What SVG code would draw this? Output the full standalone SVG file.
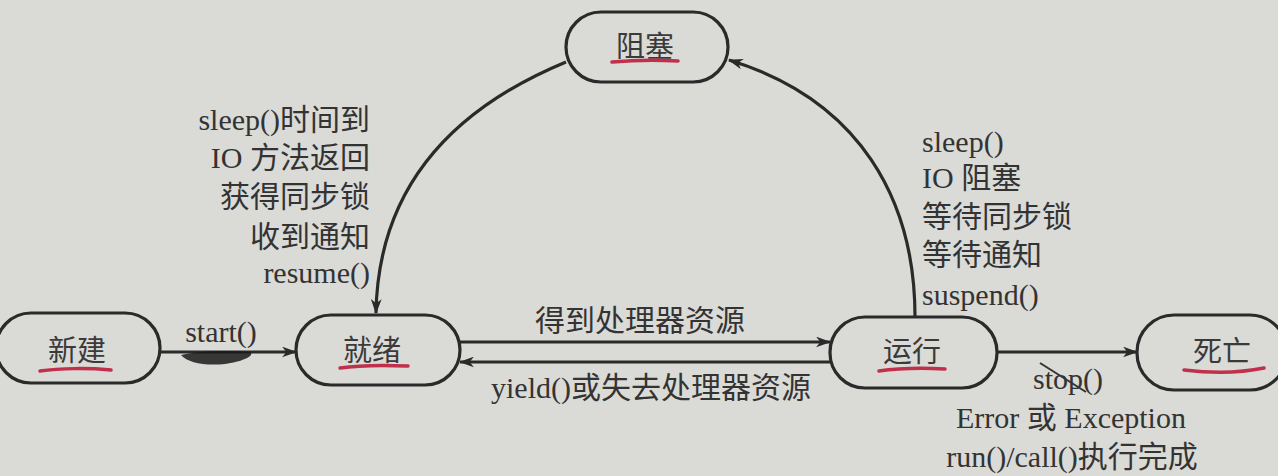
<svg xmlns="http://www.w3.org/2000/svg" width="1278" height="476" viewBox="0 0 1278 476">
<defs>
<marker id="ah" viewBox="0 0 14 10" refX="13" refY="5" markerWidth="15" markerHeight="11" markerUnits="userSpaceOnUse" orient="auto">
<path d="M0,0 L14,5 L0,10 L4,5 z" fill="#2a2a2a"/>
</marker>
<style>
.node{fill:none;stroke:#2a2a2a;stroke-width:3.2}
.lbl{font-family:"Liberation Serif","Noto Sans CJK SC",serif;font-size:29px;fill:#3a3a3a;text-anchor:middle}
.t{font-family:"Liberation Serif","Noto Sans CJK SC",serif;font-size:30px;fill:#333}
.edge{fill:none;stroke:#2a2a2a;stroke-width:3.2;marker-end:url(#ah)}
.ul{fill:none;stroke:#c0304a;stroke-width:3.5;stroke-linecap:round}
</style>
</defs>
<rect width="1278" height="476" fill="#dadad7"/>
<g id="edges">
<path class="edge" d="M160,352 L296,352"/>
<path class="edge" d="M460,342 L830,342"/>
<path class="edge" d="M830,362 L460,362"/>
<path class="edge" d="M997,352 L1137,352"/>
<path class="edge" d="M566,62 C450,110 378,190 376,313"/>
<path class="edge" d="M915,317 C915,200 860,100 729,60"/>
<path d="M181,355 C200,351 225,350 250,352 C256,356 240,362 225,364 C205,366 188,363 181,355 z" fill="#1a1a1a" opacity="0.85"/>
<path d="M1040,363 L1086,392" stroke="#333" stroke-width="2" fill="none"/>
<text class="t" x="221" y="342" text-anchor="middle">start()</text>
<text class="t" x="640" y="331" text-anchor="middle">得到处理器资源</text>
<text class="t" x="651" y="398" text-anchor="middle">yield()或失去处理器资源</text>
<g text-anchor="end">
<text class="t" x="370" y="130">sleep()时间到</text>
<text class="t" x="370" y="168">IO 方法返回</text>
<text class="t" x="370" y="207">获得同步锁</text>
<text class="t" x="370" y="247">收到通知</text>
<text class="t" x="370" y="283">resume()</text>
</g>
<text class="t" x="922" y="152">sleep()</text>
<text class="t" x="922" y="188">IO 阻塞</text>
<text class="t" x="922" y="227">等待同步锁</text>
<text class="t" x="922" y="265">等待通知</text>
<text class="t" x="922" y="305">suspend()</text>
<text class="t" x="1068" y="389" text-anchor="middle">stop()</text>
<text class="t" x="1071" y="428" text-anchor="middle">Error 或 Exception</text>
<text class="t" x="1072" y="467" text-anchor="middle">run()/call()执行完成</text>
</g>
<g id="n_new">
<rect class="node" x="-4" y="313" width="164" height="70" rx="35"/>
<text class="lbl" x="77" y="361">新建</text>
<path class="ul" d="M40,371 C60,368 90,368 111,370"/>
</g>
<g id="n_ready">
<rect class="node" x="296" y="315" width="164" height="70" rx="35"/>
<text class="lbl" x="372" y="361">就绪</text>
<path class="ul" d="M340,368 C360,365 385,365 408,366"/>
</g>
<g id="n_block">
<rect class="node" x="566" y="12" width="162" height="70" rx="35"/>
<text class="lbl" x="645" y="57">阻塞</text>
<path class="ul" d="M612,62 C635,60 660,60 678,61"/>
</g>
<g id="n_run">
<rect class="node" x="830" y="317" width="167" height="71" rx="35"/>
<text class="lbl" x="912" y="362">运行</text>
<path class="ul" d="M879,371 C900,368 925,368 945,369"/>
</g>
<g id="n_dead">
<rect class="node" x="1137" y="315" width="150" height="75" rx="37"/>
<text class="lbl" x="1222" y="362">死亡</text>
<path class="ul" d="M1184,370 C1210,373 1240,373 1264,368"/>
</g>
</svg>
